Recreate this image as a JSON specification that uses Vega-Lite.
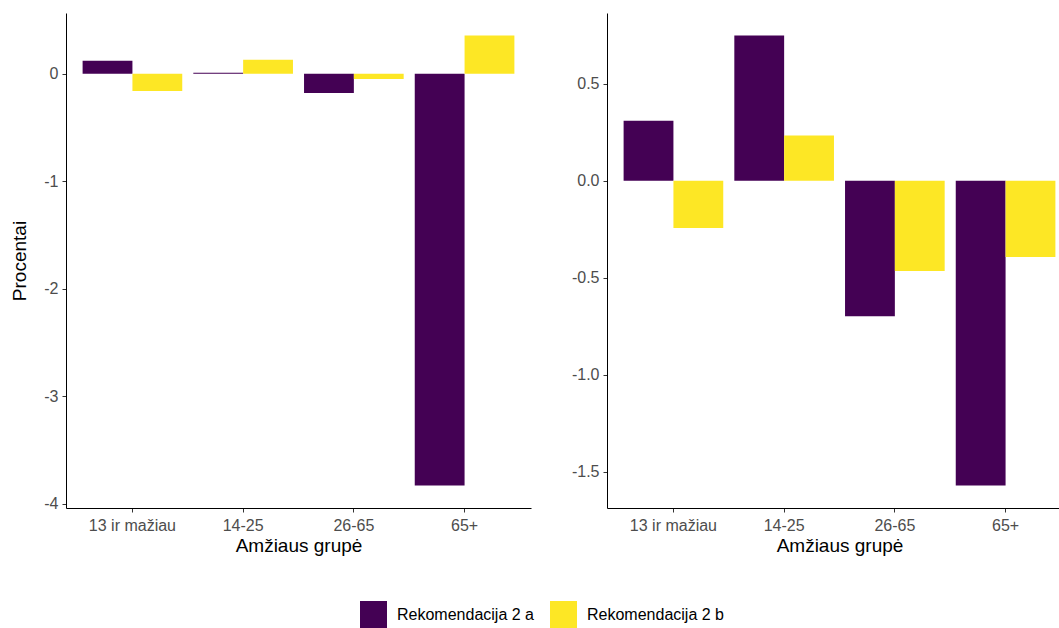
{
  "$schema": "https://vega.github.io/schema/vega-lite/v6.json",
  "padding": {"left": 10, "top": 13, "right": 0, "bottom": 0},
  "background": "white",
  "data": {
    "values": [
      {"panel": "L", "grupe": "13 ir mažiau", "rek": "Rekomendacija 2 a", "value": 0.12},
      {"panel": "L", "grupe": "13 ir mažiau", "rek": "Rekomendacija 2 b", "value": -0.16},
      {"panel": "L", "grupe": "14-25", "rek": "Rekomendacija 2 a", "value": 0.01},
      {"panel": "L", "grupe": "14-25", "rek": "Rekomendacija 2 b", "value": 0.13},
      {"panel": "L", "grupe": "26-65", "rek": "Rekomendacija 2 a", "value": -0.18},
      {"panel": "L", "grupe": "26-65", "rek": "Rekomendacija 2 b", "value": -0.05},
      {"panel": "L", "grupe": "65+", "rek": "Rekomendacija 2 a", "value": -3.83},
      {"panel": "L", "grupe": "65+", "rek": "Rekomendacija 2 b", "value": 0.355},
      {"panel": "R", "grupe": "13 ir mažiau", "rek": "Rekomendacija 2 a", "value": 0.31},
      {"panel": "R", "grupe": "13 ir mažiau", "rek": "Rekomendacija 2 b", "value": -0.243},
      {"panel": "R", "grupe": "14-25", "rek": "Rekomendacija 2 a", "value": 0.749},
      {"panel": "R", "grupe": "14-25", "rek": "Rekomendacija 2 b", "value": 0.233},
      {"panel": "R", "grupe": "26-65", "rek": "Rekomendacija 2 a", "value": -0.698},
      {"panel": "R", "grupe": "26-65", "rek": "Rekomendacija 2 b", "value": -0.465},
      {"panel": "R", "grupe": "65+", "rek": "Rekomendacija 2 a", "value": -1.571},
      {"panel": "R", "grupe": "65+", "rek": "Rekomendacija 2 b", "value": -0.393}
    ]
  },
  "spacing": 40,
  "hconcat": [
    {
      "width": 465,
      "height": 495,
      "transform": [{"filter": "datum.panel === 'L'"}],
      "mark": {"type": "bar"},
      "encoding": {
        "x": {"field": "grupe", "type": "nominal", "title": "Amžiaus grupė",
              "sort": ["13 ir mažiau", "14-25", "26-65", "65+"],
              "scale": {"paddingInner": 0.1, "paddingOuter": 0.15},
              "axis": {"labelAngle": 0}},
        "xOffset": {"field": "rek", "type": "nominal", "scale": {"paddingInner": 0, "paddingOuter": 0}},
        "y": {"field": "value", "type": "quantitative", "title": "Procentai",
              "scale": {"domain": [-4.04, 0.565], "nice": false, "zero": false},
              "axis": {"values": [-4, -3, -2, -1, 0], "format": "d", "titlePadding": 14, "labelExpr": "replace(datum.label, '\u2212', '-')"}},
        "color": {"field": "rek", "type": "nominal",
                  "scale": {"domain": ["Rekomendacija 2 a", "Rekomendacija 2 b"], "range": ["#440154", "#FDE725"]},
                  "legend": {"title": null, "orient": "none", "direction": "horizontal", "legendX": 294, "legendY": 588}}
      }
    },
    {
      "width": 465,
      "height": 495,
      "transform": [{"filter": "datum.panel === 'R'"}],
      "mark": {"type": "bar"},
      "encoding": {
        "x": {"field": "grupe", "type": "nominal", "title": "Amžiaus grupė",
              "sort": ["13 ir mažiau", "14-25", "26-65", "65+"],
              "scale": {"paddingInner": 0.1, "paddingOuter": 0.15},
              "axis": {"labelAngle": 0}},
        "xOffset": {"field": "rek", "type": "nominal", "scale": {"paddingInner": 0, "paddingOuter": 0}},
        "y": {"field": "value", "type": "quantitative", "title": null,
              "scale": {"domain": [-1.687, 0.865], "nice": false, "zero": false},
              "axis": {"values": [-1.5, -1, -0.5, 0, 0.5], "format": ".1f", "labelExpr": "replace(datum.label, '\u2212', '-')"}},
        "color": {"field": "rek", "type": "nominal",
                  "scale": {"domain": ["Rekomendacija 2 a", "Rekomendacija 2 b"], "range": ["#440154", "#FDE725"]},
                  "legend": {"title": null, "orient": "none", "direction": "horizontal", "legendX": 294, "legendY": 588}}
      }
    }
  ],
  "config": {
    "font": "Liberation Sans",
    "view": {"stroke": null},
    "axis": {
      "grid": false,
      "domainColor": "#000000",
      "domainWidth": 1,
      "tickColor": "#333333",
      "tickSize": 4,
      "labelFont": "Liberation Sans",
      "labelFontSize": 16,
      "labelColor": "#4D4D4D",
      "labelPadding": 4,
      "titleFont": "Liberation Sans",
      "titleFontSize": 19,
      "titleFontWeight": "normal",
      "titleColor": "#000000"
    },
    "axisX": {"titlePadding": 3, "labelPadding": 5},
    "legend": {
      "symbolType": "square",
      "symbolSize": 729,
      "symbolStrokeWidth": 0,
      "symbolOpacity": 1,
      "labelFont": "Liberation Sans",
      "labelFontSize": 16,
      "labelColor": "#000000",
      "labelOffset": 10,
      "columnPadding": 16
    }
  }
}
